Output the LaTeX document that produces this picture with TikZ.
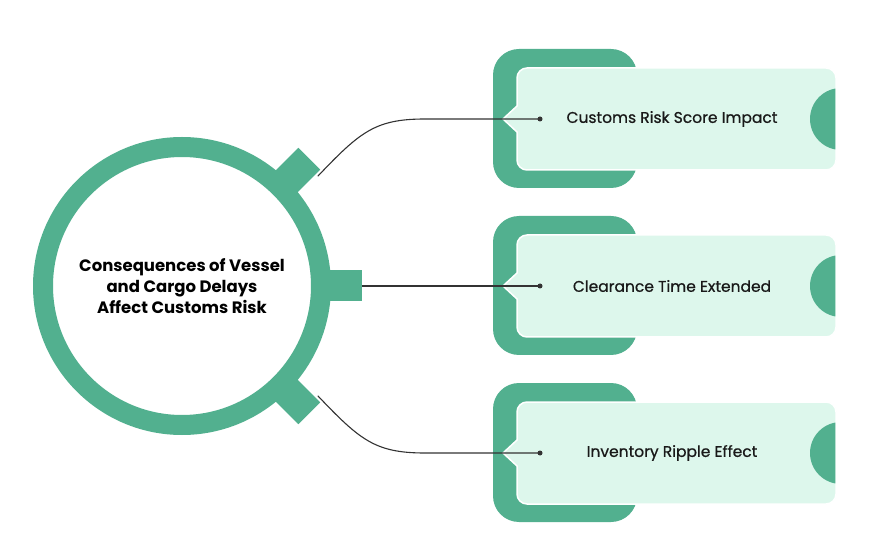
\documentclass[tikz,border=0pt]{standalone}
\usepackage{fontspec}
\setmainfont{Poppins}
\newfontfamily\medfont{Poppins}[FakeBold=0.7]
\usetikzlibrary{calc}

\definecolor{ringgreen}{HTML}{52B08F}
\definecolor{mint}{HTML}{DDF7EC}
\definecolor{wire}{HTML}{333333}

\begin{document}
\begin{tikzpicture}[x=1pt, y=-1pt, line cap=round, line join=round]
    \useasboundingbox (0,0) rectangle (873,553);
    \tikzset{
      bracket/.style={fill=ringgreen, rounded corners=26pt},
      card/.style={fill=mint, draw=white, line width=1.5pt},
      wireline/.style={draw=wire, line width=1.1pt},
      label/.style={font=\medfont\fontsize{15.5}{18}\selectfont, text=black!90}
    }
    \coordinate (C) at (182,286);

    % three cards
    \foreach \y/\txt/\n in {119/Customs Risk Score Impact/b1,
                            286/Clearance Time Extended/b2,
                            453/Inventory Ripple Effect/b3}{
      \fill[bracket] (493,\y-70) rectangle (637,\y+69);
      \path[card] (503,\y) -- (517,\y-13) [rounded corners=10pt] -- (517,\y-51)
        -- (836,\y-51) -- (836,\y+51) -- (517,\y+51) [sharp corners] -- (517,\y+13) -- cycle;
      \begin{scope}
        \clip (800,\y-40) rectangle (835.3,\y+40);
        \fill[ringgreen] (841,\y) circle (31pt);
      \end{scope}
      \node[label] (\n) at (672,\y) {\txt};
    }

    % connectors, under the tabs
    \coordinate (t1) at (318,176);
    \coordinate (t2) at (350,286);
    \coordinate (t3) at (318,396);
    \coordinate (k1) at (425,119);
    \coordinate (k3) at (425,453);
    \coordinate (d1) at (540,119);
    \coordinate (d2) at (540,286);
    \coordinate (d3) at (540,453);
    \draw[wireline] (t1) .. controls +(42,-44) and +(-50,0) .. (k1) -- (d1);
    \draw[wireline] (t2) -- (d2);
    \draw[wireline] (t3) .. controls +(42,44) and +(-50,0) .. (k3) -- (d3);
    \foreach \d in {d1,d2,d3}
      \fill[wire] (\d) circle (2.5pt);

    % tabs on the ring
    \foreach \a in {45,0,-45}
      \fill[ringgreen, rotate around={\a:(C)}] ($(C)+(138,-15.5)$) rectangle ($(C)+(180,15.5)$);

    \node[circle, draw=ringgreen, line width=20pt, fill=white, minimum size=278pt,
          align=center, font=\bfseries\fontsize{16.5}{21}\selectfont] (hub) at (C)
      {Consequences of Vessel\\and Cargo Delays\\Affect Customs Risk};
\end{tikzpicture}
\end{document}
